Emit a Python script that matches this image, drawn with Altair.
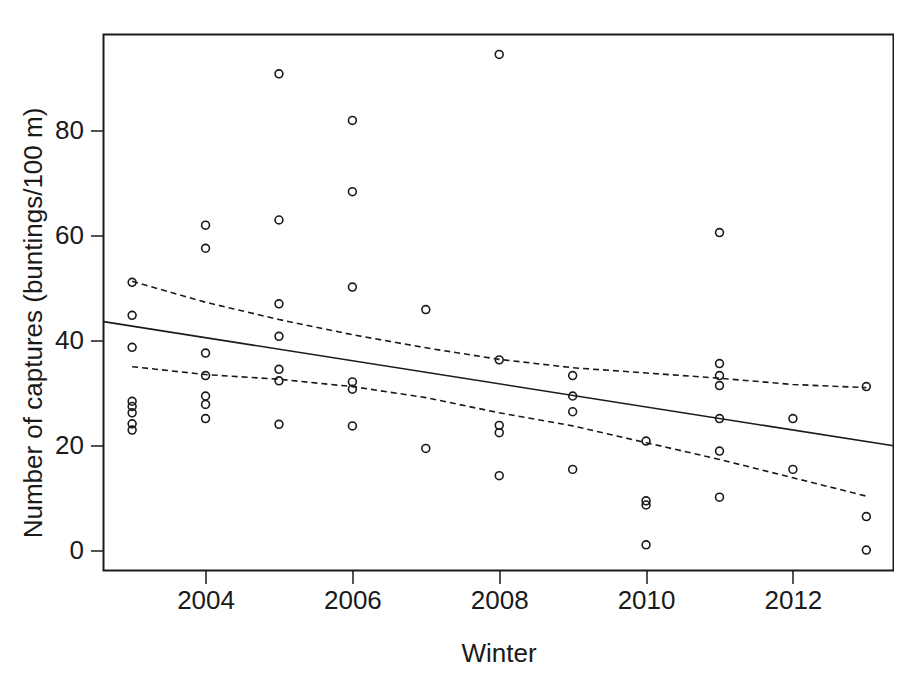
import altair as alt
import pandas as pd

# Observed captures per winter
winter = ([2003] * 8 + [2004] * 7 + [2005] * 7 + [2006] * 6 + [2007] * 2 +
          [2008] * 5 + [2009] * 4 + [2010] * 4 + [2011] * 7 + [2012] * 2 + [2013] * 3)
captures = [51.1, 44.8, 38.7, 28.4, 27.4, 26.2, 24.1, 22.9,
            62.0, 57.6, 37.6, 33.3, 29.4, 27.8, 25.1,
            90.9, 63.0, 47.0, 40.8, 34.5, 32.3, 24.0,
            82.0, 68.4, 50.2, 32.1, 30.7, 23.7,
            45.9, 19.4,
            94.6, 36.3, 23.8, 22.4, 14.2,
            33.3, 29.4, 26.4, 15.4,
            20.8, 9.4, 8.6, 1.0,
            60.6, 35.6, 33.3, 31.4, 25.1, 18.9, 10.1,
            25.1, 15.4,
            31.2, 6.4, 0.0]

# Fitted trend line (ends at the plot edges)
fit_x = [2002.61, 2013.37]
fit_y = [43.6, 19.9]

# Confidence band lines
band_x = [2003, 2004, 2005, 2006, 2007, 2008, 2009, 2010, 2011, 2012, 2013]
band_upper = [51.3, 47.3, 44.0, 41.1, 38.6, 36.4, 34.8, 33.8, 32.8, 31.6, 31.0]
band_lower = [35.0, 33.5, 32.6, 31.2, 29.1, 26.2, 23.7, 20.5, 17.3, 13.8, 10.3]

x_domain = [2002.61, 2013.37]
y_domain = [-3.9, 98.4]
x_ticks = [2004, 2006, 2008, 2010, 2012]
y_ticks = [0, 20, 40, 60, 80]

pts = pd.DataFrame({"Winter": winter, "Captures": captures})
fit = pd.DataFrame({"Winter": fit_x, "Captures": fit_y})
band = pd.concat([
    pd.DataFrame({"Winter": band_x, "Captures": band_upper, "side": "upper"}),
    pd.DataFrame({"Winter": band_x, "Captures": band_lower, "side": "lower"}),
])

FONT = "Liberation Sans"
ink = "#1a1a1a"
FS = 26

xs = alt.Scale(domain=x_domain, nice=False, zero=False)
ys = alt.Scale(domain=y_domain, nice=False, zero=False)

x_axis = alt.Axis(values=x_ticks, format="d", title="Winter", grid=False, domain=False,
                  tickSize=13, tickColor=ink, tickWidth=1.5, labelFontSize=FS,
                  labelColor=ink, labelFont=FONT, labelPadding=4, titleFont=FONT,
                  titleFontSize=FS, titleFontWeight="normal", titleColor=ink,
                  titlePadding=27, labelFlush=False)
y_axis = alt.Axis(values=y_ticks, title="Number of captures (buntings/100 m)", grid=False,
                  domain=False, tickSize=13, tickColor=ink, tickWidth=1.5, labelFontSize=FS,
                  labelColor=ink, labelFont=FONT, labelPadding=7, titleFont=FONT,
                  titleFontSize=FS, titleFontWeight="normal", titleColor=ink,
                  titlePadding=8, titleY=288, labelFlush=False)

points = alt.Chart(pts).mark_point(shape="circle", filled=False, size=62, color=ink,
                                   strokeWidth=1.6, opacity=1, clip=True).encode(
    x=alt.X("Winter:Q", scale=xs, axis=x_axis),
    y=alt.Y("Captures:Q", scale=ys, axis=y_axis),
)

fit_line = alt.Chart(fit).mark_line(color=ink, strokeWidth=1.6, clip=True).encode(
    x=alt.X("Winter:Q", scale=xs),
    y=alt.Y("Captures:Q", scale=ys),
)

band_lines = alt.Chart(band).mark_line(color=ink, strokeWidth=1.6, strokeDash=[6, 4],
                                       clip=True).encode(
    x=alt.X("Winter:Q", scale=xs),
    y=alt.Y("Captures:Q", scale=ys),
    detail="side:N",
)

chart = alt.layer(band_lines, fit_line, points).properties(
    width=790,
    height=536,
    autosize=alt.AutoSizeParams(type="none"),
    padding={"left": 95.5, "top": 26.5, "right": 0, "bottom": 110},
).configure(
    background="white"
).configure_view(
    stroke=ink, strokeWidth=2
)

chart.save("out.html", embed_options={"renderer": "svg", "actions": False})
